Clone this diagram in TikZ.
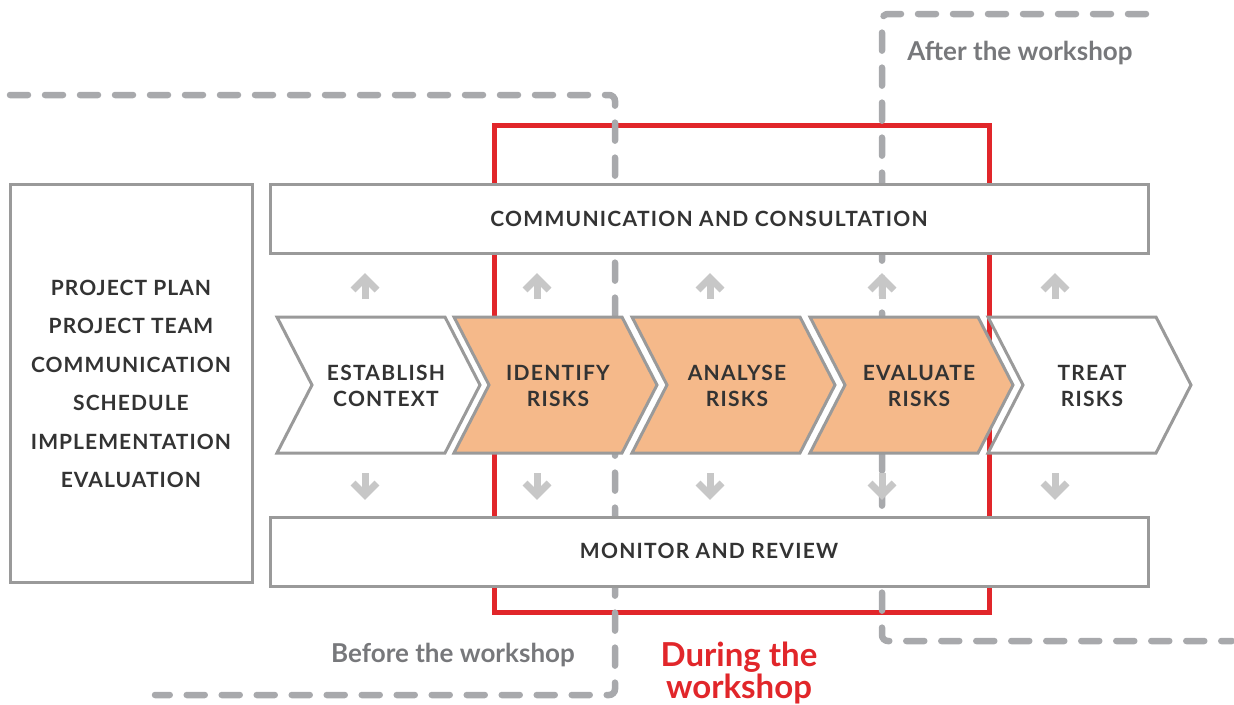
\documentclass[tikz,border=0pt]{standalone}
\usepackage{fontspec}
\setmainfont{Lato}
\definecolor{boxgray}{HTML}{9A9A9A}
\definecolor{dashgray}{HTML}{A8A9AC}
\definecolor{arrgray}{HTML}{C7C7C7}
\definecolor{riskred}{HTML}{E1262A}
\definecolor{txtdark}{HTML}{333333}
\definecolor{txtgray}{HTML}{77787B}
\definecolor{stepfill}{HTML}{F5B98A}
\tikzset{
  boxline/.style={draw=boxgray, line width=3pt, line join=miter},
  phasedash/.style={draw=dashgray, line width=6.5pt, line cap=round, dash pattern=on 18pt off 17pt, rounded corners=6pt},
  flowarr/.style={draw=arrgray, line width=7pt},
  lbl/.style={font=\bfseries\fontsize{21}{26}\selectfont\addfontfeature{LetterSpace=6}, text=txtdark, align=center, inner sep=0pt},
  phaselbl/.style={font=\bfseries\fontsize{26}{30}\selectfont, text=txtgray, inner sep=0pt},
}
% one process step: top-left corner x and fill colour
\newcommand\stepchevron[2]{%
  \draw[boxline, fill=#2] (#1,317) -- ++(168,0) -- ++(35,68) -- ++(-35,68) -- ++(-168,0) -- ++(35,-68) -- cycle;}
% small up/down arrows between the bands and the steps
\newcommand\flowup[1]{%
  \draw[flowarr] (#1,299) -- (#1,279);
  \draw[flowarr, line join=miter] (#1-12,290) -- (#1,278) -- (#1+12,290);}
\newcommand\flowdown[1]{%
  \draw[flowarr] (#1,473) -- (#1,493);
  \draw[flowarr, line join=miter] (#1-12,483) -- (#1,495) -- (#1+12,483);}
\begin{document}
\begin{tikzpicture}[x=1pt,y=-1pt]
\useasboundingbox (0,0) rectangle (1234,704);

% workshop frame
\draw[riskred, line width=5pt] (494,125) rectangle (989,612);

% phase boundaries
\coordinate (b0) at (10,95);
\coordinate (b1) at (615,95);
\coordinate (b2) at (615,695);
\coordinate (b3) at (155,695);
\draw[phasedash] (b0) -- (b1) -- (b2) -- (b3);
\coordinate (a0) at (1146,14);
\coordinate (a1) at (882,14);
\coordinate (a2) at (882,641);
\coordinate (a3) at (1232,641);
\draw[phasedash] (a0) -- (a1) -- (a2) -- (a3);

% left planning box
\draw[boxline, fill=white] (10,184) rectangle (252,582);
\node[lbl, font=\bfseries\fontsize{21}{38.5}\selectfont\addfontfeature{LetterSpace=5}] (plan) at (131,384)
  {PROJECT PLAN\\PROJECT TEAM\\COMMUNICATION\\SCHEDULE\\IMPLEMENTATION\\EVALUATION};

% bands
\draw[boxline, fill=white] (270,184) rectangle (1148,253);
\node[lbl] (comm) at (709,219) {COMMUNICATION AND CONSULTATION};
\draw[boxline, fill=white] (270,517) rectangle (1148,586);
\node[lbl] (mon) at (709,551) {MONITOR AND REVIEW};

% process steps
\stepchevron{277}{white}
\stepchevron{454}{stepfill}
\stepchevron{632}{stepfill}
\stepchevron{810}{stepfill}
\stepchevron{988}{white}
\node[lbl] (est) at (386,386) {ESTABLISH\\CONTEXT};
\node[lbl] (ide) at (558,386) {IDENTIFY\\RISKS};
\node[lbl] (ana) at (737,386) {ANALYSE\\RISKS};
\node[lbl] (eva) at (919,386) {EVALUATE\\RISKS};
\node[lbl] (tre) at (1092,386) {TREAT\\RISKS};

% arrows
\foreach \x in {365,537,710,882,1055}{\flowup{\x}\flowdown{\x}}

% phase labels
\node[phaselbl] (after) at (1020,53) {After the workshop};
\node[phaselbl] (before) at (453,655) {Before the workshop};
\node[phaselbl, text=riskred, font=\bfseries\fontsize{33}{30}\selectfont, align=center] (during) at (739,673) {During the\\workshop};
\end{tikzpicture}
\end{document}
